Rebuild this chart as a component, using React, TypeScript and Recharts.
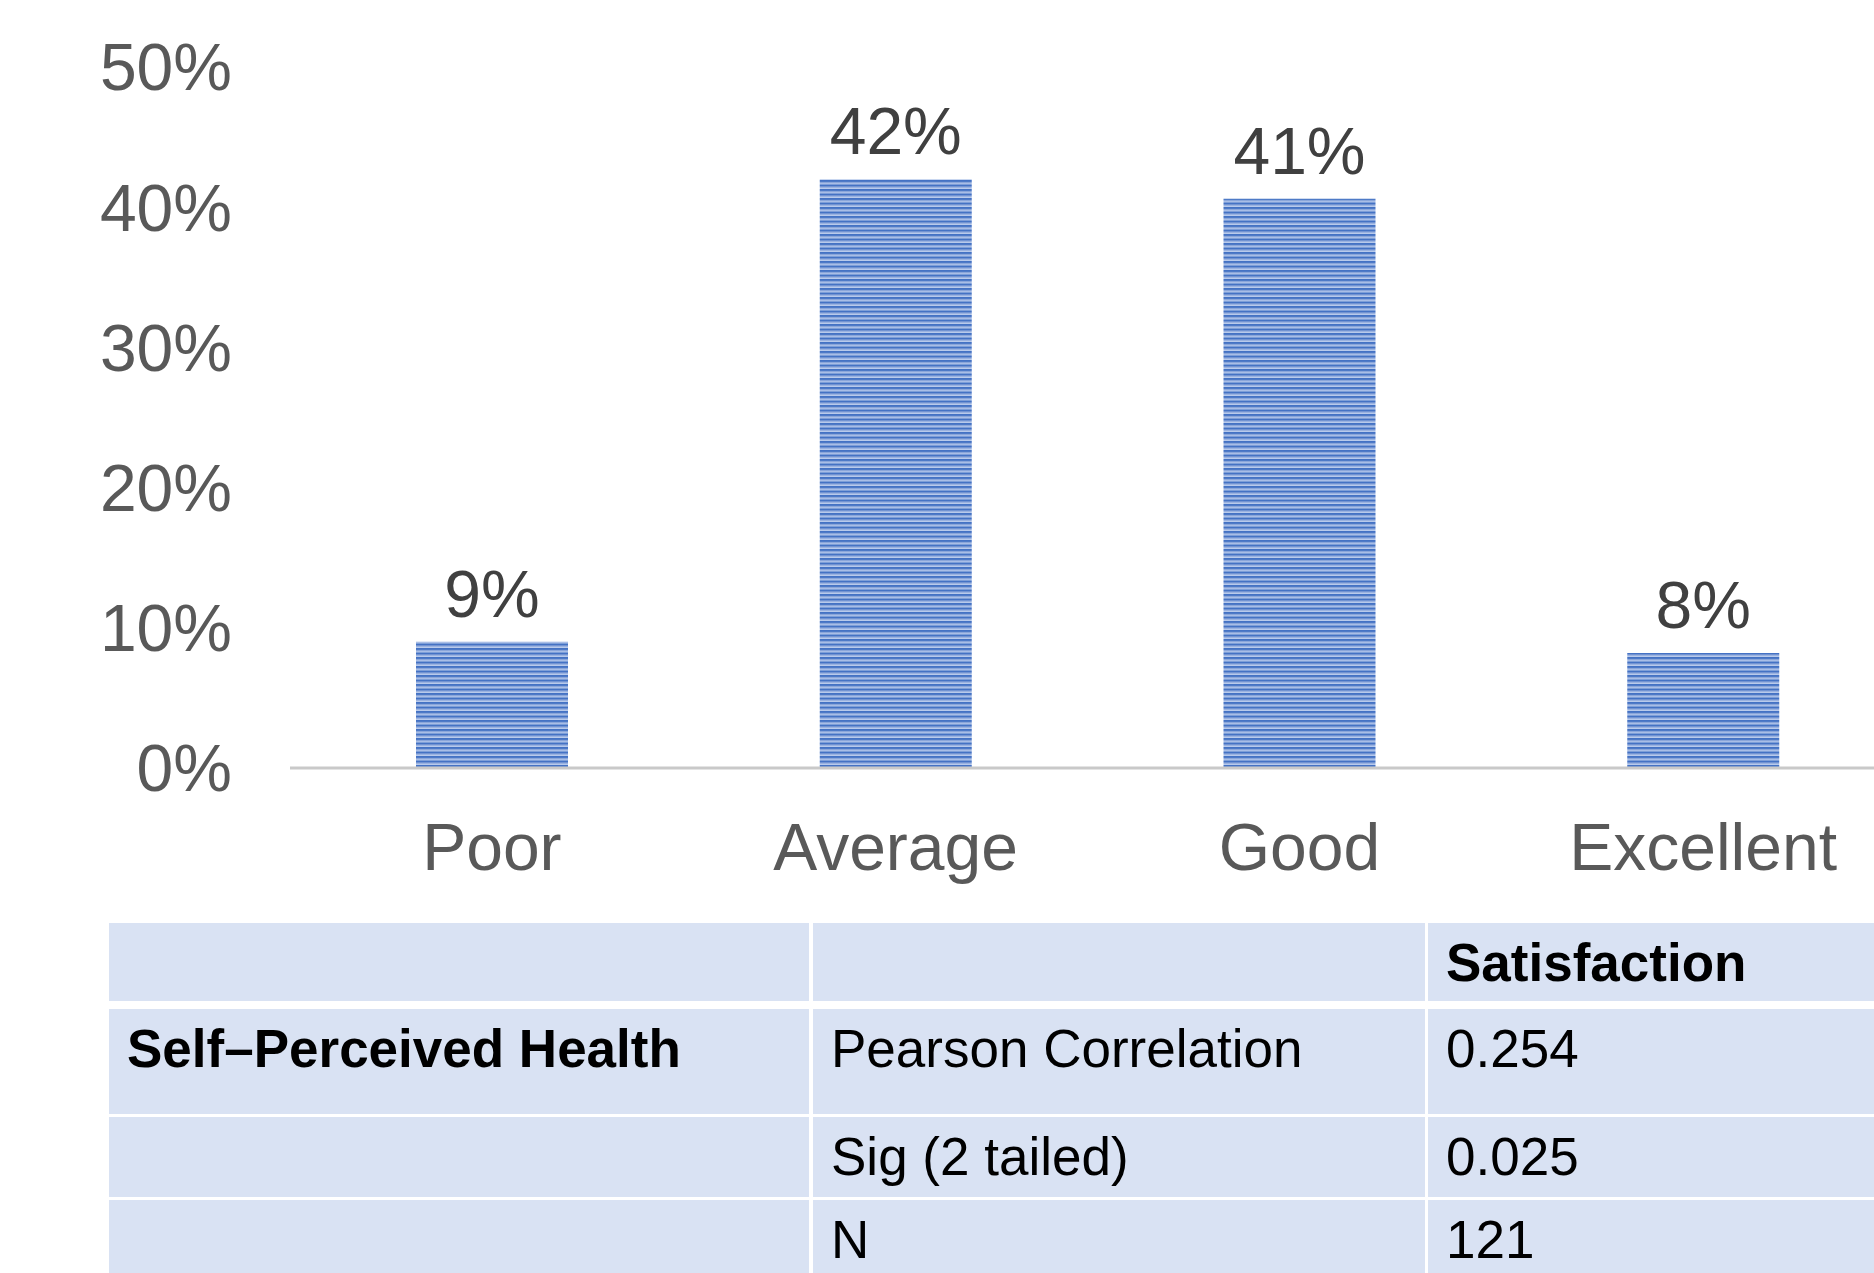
import React from 'react';
import { BarChart, Bar, XAxis, YAxis, LabelList } from 'recharts';

// ---- chart data ----
const categories = ['Poor', 'Average', 'Good', 'Excellent'];
const shares = [9.0, 42.0, 40.6, 8.2]; // percent
const yTicks = [0, 10, 20, 30, 40, 50];

// ---- table data ----
const tableHeader = ['', '', 'Satisfaction'];
const tableRowLabels = ['Self–Perceived Health', '', ''];
const tableStatNames = ['Pearson Correlation', 'Sig (2 tailed)', 'N'];
const tableStatValues = ['0.254', '0.025', '121'];

const chartData = categories.map((c, i) => ({ name: c, value: shares[i] }));

const FONT = '"Liberation Sans", Arial, Helvetica, sans-serif';

const colLefts = [109, 813, 1428];
const colRights = [809, 1425, 1900];
const rowTops = [923, 1009, 1117, 1200];
const rowBottoms = [1001, 1114, 1197, 1300];

function Table() {
  const rows: { cells: string[]; bold: boolean[] }[] = [
    { cells: tableHeader, bold: [false, false, true] },
    ...tableStatNames.map((s, i) => ({
      cells: [tableRowLabels[i], s, tableStatValues[i]],
      bold: [true, false, false],
    })),
  ];
  const out: React.ReactNode[] = [];
  rows.forEach((r, ri) => {
    r.cells.forEach((txt, ci) => {
      out.push(
        <div
          key={`${ri}-${ci}`}
          style={{
            position: 'absolute',
            left: colLefts[ci],
            top: rowTops[ri],
            width: colRights[ci] - colLefts[ci],
            height: rowBottoms[ri] - rowTops[ri],
            background: '#D9E2F3',
            boxSizing: 'border-box',
            paddingLeft: 18,
            paddingTop: 13,
            fontFamily: FONT,
            fontSize: 53,
            lineHeight: '53px',
            fontWeight: r.bold[ci] ? 700 : 400,
            color: '#000',
            whiteSpace: 'nowrap',
          }}
        >
          {txt}
        </div>
      );
    });
  });
  return <>{out}</>;
}

export default function App() {
  return (
    <div
      style={{
        position: 'absolute',
        left: 0,
        top: 0,
        width: 1874,
        height: 1273,
        overflow: 'hidden',
        background: '#fff',
      }}
    >
      <div style={{ position: 'absolute', left: 0, top: 0 }}>
        <BarChart
          width={1920}
          height={900}
          data={chartData}
          margin={{ top: 67, right: 15, left: 0, bottom: 32 }}
          barSize={152}
        >
          <defs>
            <pattern id="stripes" x="0" y="0" width="10" height="4.5" patternUnits="userSpaceOnUse">
              <rect x="0" y="0" width="10" height="4.5" fill="#B9CBEC" />
              <rect x="0" y="0" width="10" height="2.2" fill="#4472C4" />
              <rect x="0" y="2.2" width="10" height="0.9" fill="#7F9DD6" />
            </pattern>
          </defs>
          <XAxis
            dataKey="name"
            height={100}
            tickLine={false}
            tickSize={0}
            tickMargin={55}
            axisLine={{ stroke: '#C9C9C9', strokeWidth: 3 }}
            tick={{ fill: '#595959', fontSize: 66, fontFamily: FONT }}
            interval={0}
          />
          <YAxis
            width={290}
            domain={[0, 50]}
            ticks={yTicks}
            axisLine={false}
            tickLine={false}
            tickSize={0}
            tickMargin={58}
            tickFormatter={(v: number) => `${v}%`}
            tick={{ fill: '#595959', fontSize: 66, fontFamily: FONT }}
          />
          <Bar dataKey="value" fill="url(#stripes)" isAnimationActive={false}>
            <LabelList
              dataKey="value"
              position="top"
              offset={25}
              formatter={(v: any) => `${Math.round(Number(v))}%`}
              style={{ fill: '#404040', fontSize: 66, fontFamily: FONT }}
            />
          </Bar>
        </BarChart>
      </div>
      <Table />
    </div>
  );
}
